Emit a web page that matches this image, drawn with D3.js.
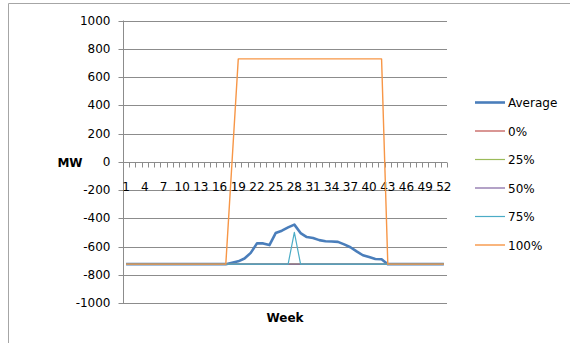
<!DOCTYPE html>
<html><head><meta charset="utf-8">
<script src="https://cdn.jsdelivr.net/npm/d3@7"></script>
<style>html,body{margin:0;padding:0;background:#fff;}svg{display:block;}</style>
</head><body>
<svg id="chart" width="570" height="343"></svg>
<script>
const weeks = [1,2,3,4,5,6,7,8,9,10,11,12,13,14,15,16,17,18,19,20,21,22,23,24,25,26,27,28,29,30,31,32,33,34,35,36,37,38,39,40,41,42,43,44,45,46,47,48,49,50,51,52];
const xTickLabels = [1,4,7,10,13,16,19,22,25,28,31,34,37,40,43,46,49,52];
const yTicks = [-1000,-800,-600,-400,-200,0,200,400,600,800,1000];
const seriesNames = ["Average","0%","25%","50%","75%","100%"];
const seriesColors = ["#4A7EBB","#C0504D","#9BBB59","#8064A2","#4BACC6","#F79646"];
const seriesWidths = [2.6,1.2,1.2,1.2,1.2,1.4];

const avgValues = [-725,-725,-725,-725,-725,-725,-725,-725,-725,-725,-725,-725,-725,-725,-725,-725,-725,
  -715,-705,-685,-645,-578,-578,-590,-505,-488,-465,-445,-505,-533,-540,-555,-563,-565,-567,-585,-605,-635,-662,-675,-688,-690,
  -725,-725,-725,-725,-725,-725,-725,-725,-725,-725];
const p0Values = [-725,-725,-725,-725,-725,-725,-725,-725,-725,-725,-725,-725,-725,-725,-725,-725,-725,-725,-725,-725,-725,-725,-725,-725,-725,-725,-725,-725,-725,-725,-725,-725,-725,-725,-725,-725,-725,-725,-725,-725,-725,-725,-725,-725,-725,-725,-725,-725,-725,-725,-725,-725];
const p25Values = [-725,-725,-725,-725,-725,-725,-725,-725,-725,-725,-725,-725,-725,-725,-725,-725,-725,-725,-725,-725,-725,-725,-725,-725,-725,-725,-725,-725,-725,-725,-725,-725,-725,-725,-725,-725,-725,-725,-725,-725,-725,-725,-725,-725,-725,-725,-725,-725,-725,-725,-725,-725];
const p50Values = [-725,-725,-725,-725,-725,-725,-725,-725,-725,-725,-725,-725,-725,-725,-725,-725,-725,-725,-725,-725,-725,-725,-725,-725,-725,-725,-725,-725,-725,-725,-725,-725,-725,-725,-725,-725,-725,-725,-725,-725,-725,-725,-725,-725,-725,-725,-725,-725,-725,-725,-725,-725];
const p75Values = [-725,-725,-725,-725,-725,-725,-725,-725,-725,-725,-725,-725,-725,-725,-725,-725,-725,-725,-725,-725,-725,-725,-725,-725,-725,-725,-725,-500,-725,-725,-725,-725,-725,-725,-725,-725,-725,-725,-725,-725,-725,-725,-725,-725,-725,-725,-725,-725,-725,-725,-725,-725];
const p100Values = [-725,-725,-725,-725,-725,-725,-725,-725,-725,-725,-725,-725,-725,-725,-725,-725,-725,
  0,728,728,728,728,728,728,728,728,728,728,728,728,728,728,728,728,728,728,728,728,728,728,728,728,
  -725,-725,-725,-725,-725,-725,-725,-725,-725,-725];
const allSeries = [avgValues,p0Values,p25Values,p50Values,p75Values,p100Values];

const svg = d3.select("#chart");
const font = "DejaVu Sans, Verdana, sans-serif";

// frame
svg.append("path").attr("d","M8.5,343 V3.5 H570").attr("fill","none").attr("stroke","#a6a6a6").attr("stroke-width",1);

const x = d3.scaleBand().domain(weeks).range([123,447]).paddingInner(0).paddingOuter(0);
const y = d3.scaleLinear().domain([-1000,1000]).range([303,20.5]);
const cx = w => x(w) + x.bandwidth()/2;

// gridlines
svg.append("g").selectAll("line").data(yTicks.filter(d=>d!==0)).join("line")
  .attr("x1",123).attr("x2",447)
  .attr("y1",d=>Math.round(y(d))+0.5).attr("y2",d=>Math.round(y(d))+0.5)
  .attr("stroke","#8c8c8c").attr("stroke-width",1);

// y axis
const yAxis = d3.axisLeft(y).tickValues(yTicks).tickSize(5).tickPadding(8).tickFormat(d=>String(d));
const gy = svg.append("g").attr("transform","translate(123.5,0)").call(yAxis);
gy.select(".domain").attr("stroke","#8c8c8c").attr("d","M0,"+y(1000)+"V"+y(-1000));
gy.selectAll(".tick line").attr("stroke","#8c8c8c");
gy.selectAll(".tick").attr("transform",d=>"translate(0,"+(Math.round(y(d))+0.5)+")");
gy.selectAll("text").attr("font-family",font).attr("font-size","12px").attr("fill","#000").attr("x",-13);

// x axis at 0
const y0 = Math.round(y(0))+0.5;
const gx = svg.append("g");
gx.append("line").attr("x1",123).attr("x2",447).attr("y1",y0).attr("y2",y0).attr("stroke","#8c8c8c");
const bounds = weeks.map(w=>x(w)).concat([447]);
gx.selectAll("line.tk").data(bounds).join("line").attr("class","tk")
  .attr("x1",d=>Math.round(d)+0.5).attr("x2",d=>Math.round(d)+0.5)
  .attr("y1",y0).attr("y2",y0+5).attr("stroke","#8c8c8c");
gx.selectAll("text").data(xTickLabels).join("text")
  .attr("x",d=>cx(d)).attr("y",191).attr("text-anchor","middle")
  .attr("font-family",font).attr("font-size","12px").attr("fill","#000").text(d=>d);

// series
const line = d3.line().x((d,i)=>cx(weeks[i])).y(d=>y(d));
allSeries.forEach((vals,k)=>{
  svg.append("path").datum(vals).attr("d",line).attr("fill","none")
    .attr("stroke",seriesColors[k]).attr("stroke-width",seriesWidths[k])
    .attr("stroke-linejoin","round");
});

// axis titles
svg.append("text").attr("x",70).attr("y",167).attr("text-anchor","middle")
  .attr("font-family",font).attr("font-size","12px").attr("font-weight","bold").text("MW");
svg.append("text").attr("x",285).attr("y",322).attr("text-anchor","middle")
  .attr("font-family",font).attr("font-size","12px").attr("font-weight","bold").text("Week");

// legend
const leg = svg.append("g");
seriesNames.forEach((n,k)=>{
  const ly = 102.5 + k*28.5;
  leg.append("line").attr("x1",475).attr("x2",505).attr("y1",ly).attr("y2",ly)
    .attr("stroke",seriesColors[k]).attr("stroke-width",seriesWidths[k]);
  leg.append("text").attr("x",508).attr("y",ly+4.5).attr("font-family",font)
    .attr("font-size","12px").attr("fill","#000").text(n);
});
</script>
</body></html>
